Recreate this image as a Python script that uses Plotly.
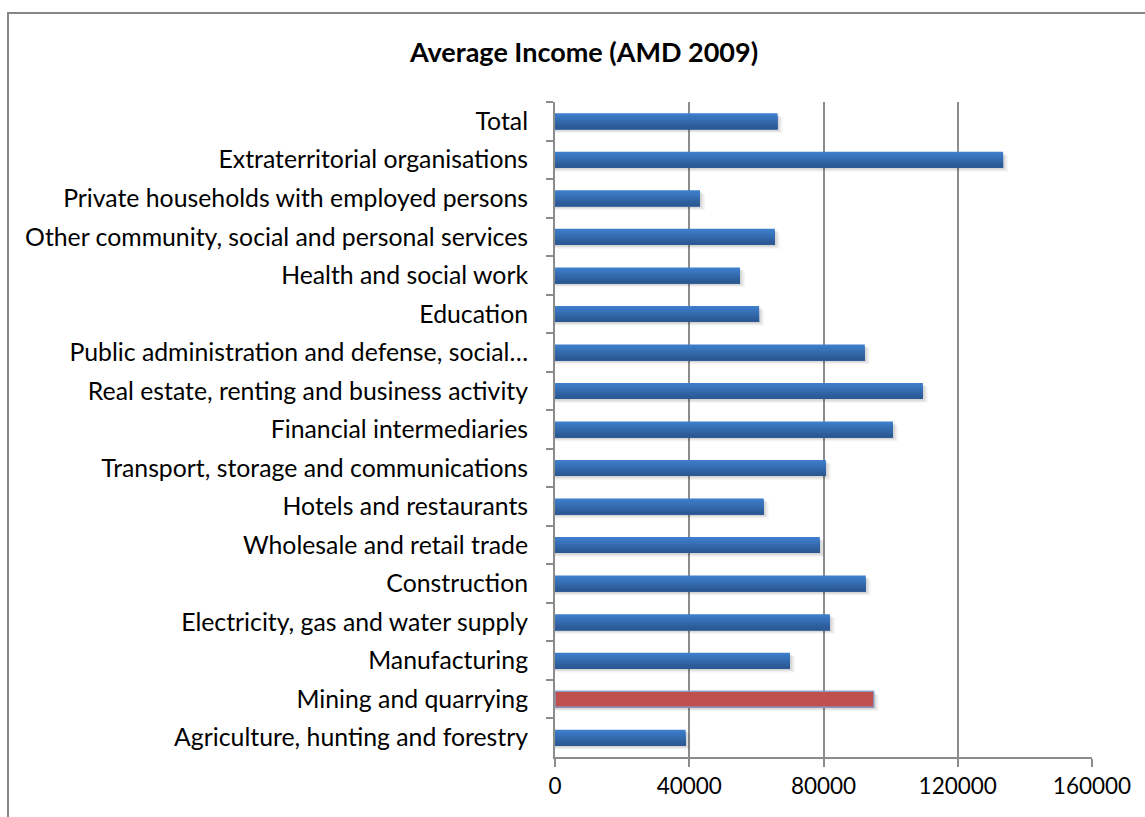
import plotly.graph_objects as go

# Sectors, listed top to bottom as shown on the chart
sectors = [
    "Total",
    "Extraterritorial organisations",
    "Private households with employed persons",
    "Other community, social and personal services",
    "Health and social work",
    "Education",
    "Public administration and defense, social…",
    "Real estate, renting and business activity",
    "Financial intermediaries",
    "Transport, storage and communications",
    "Hotels and restaurants",
    "Wholesale and retail trade",
    "Construction",
    "Electricity, gas and water supply",
    "Manufacturing",
    "Mining and quarrying",
    "Agriculture, hunting and forestry",
]

# Average income, AMD (2009)
income = [
    66300, 133500, 43200, 65500, 55100, 60800, 92300, 109600,
    100700, 80700, 62200, 78900, 92600, 81900, 70000, 95000, 38900,
]

highlight = "Mining and quarrying"
x_ticks = [0, 40000, 80000, 120000, 160000]

FONT = "Lato, 'Open Sans', sans-serif"
GRID = "#8c8c8c"
BAR_W = 0.415

# vertical gradient bands, top to bottom
blue_shades = ["#3d7dca", "#3a77c1", "#3771b8", "#346aae", "#3164a4", "#2e5e9a", "#2c5893"]
red = "#c0504d"

fig = go.Figure()

# soft drop shadow under each bar
for k, alpha in enumerate([0.04, 0.06, 0.08]):
    fig.add_trace(go.Bar(
        y=sectors, x=[v + 1500 - 500 * k for v in income], orientation="h",
        width=BAR_W, offset=-BAR_W / 2 + 0.10 - 0.03 * k,
        marker=dict(color=f"rgba(0,0,0,{alpha})", line=dict(width=0)),
        hoverinfo="skip", showlegend=False,
    ))

# each band runs from its top edge to the bar bottom, so layers overlap without seams
n = len(blue_shades)
band = BAR_W / n
for i, shade in enumerate(blue_shades):
    colors = [red if s == highlight else shade for s in sectors]
    fig.add_trace(go.Bar(
        y=sectors, x=income, orientation="h",
        width=BAR_W - i * band, offset=-BAR_W / 2 + i * band,
        marker=dict(color=colors, line=dict(width=0)),
        hoverinfo="skip", showlegend=False,
    ))

# outline for the highlighted bar
hl_x = [v if s == highlight else None for s, v in zip(sectors, income)]
fig.add_trace(go.Bar(
    y=sectors, x=hl_x, orientation="h",
    width=BAR_W, offset=-BAR_W / 2,
    marker=dict(color="rgba(0,0,0,0)", line=dict(color="#7fa6d8", width=1.2)),
    hoverinfo="skip", showlegend=False,
))

fig.update_layout(
    width=1145, height=817,
    margin=dict(l=555, r=53, t=102, b=60),
    paper_bgcolor="white", plot_bgcolor="white",
    barmode="overlay",
    font=dict(family=FONT, size=24.8, color="#000000"),
    title=dict(
        text="<b>Average Income (AMD 2009)</b>",
        x=584 / 1145, xref="container", xanchor="center",
        y=1 - 53 / 817, yref="container", yanchor="middle",
        font=dict(family=FONT, size=27, color="#000000"),
    ),
    xaxis=dict(
        range=[0, 160000], tickvals=x_ticks, ticktext=[str(t) for t in x_ticks],
        showgrid=True, gridcolor=GRID, gridwidth=2,
        showline=True, linecolor=GRID, linewidth=2,
        ticks="outside", ticklen=8, tickcolor=GRID, tickwidth=2,
        zeroline=False, fixedrange=True,
        tickfont=dict(size=22.5),
    ),
    yaxis=dict(
        categoryorder="array", categoryarray=sectors, autorange="reversed",
        showline=True, linecolor=GRID, linewidth=2,
        ticks="outside", ticklen=7, tickcolor=GRID, tickwidth=2,
        tickson="boundaries", ticklabelstandoff=20,
        showgrid=False, zeroline=False, fixedrange=True,
        tickfont=dict(size=24.8),
    ),
    shapes=[dict(
        type="rect", xref="paper", yref="paper",
        x0=(8 - 555) / 537, x1=1.3, y0=-0.3, y1=1 + (102 - 13) / 655,
        line=dict(color="#868686", width=2), layer="below",
    )],
)

fig.write_html("out.html")
